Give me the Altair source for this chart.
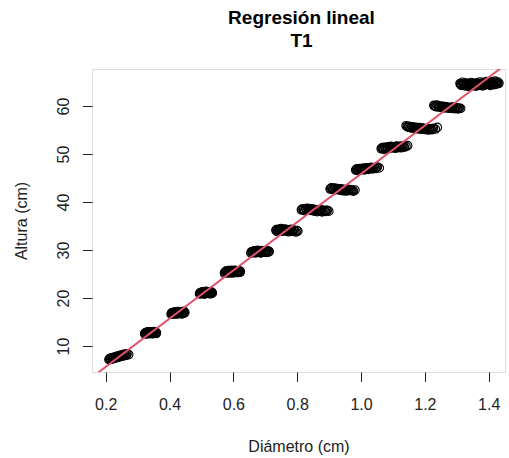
import altair as alt
import pandas as pd

# Diámetro (cm) and Altura (cm) per visible cluster of points
d1 = [0.210,0.213,0.216,0.218,0.221,0.223,0.225,0.228,0.230,0.233,0.236,0.240,0.243,0.247,0.250,0.254,0.258,0.262,0.267,0.272]
h1 = [7.15,7.40,7.25,7.55,7.35,7.60,7.45,7.70,7.50,7.80,7.65,7.90,7.75,8.00,7.85,8.10,8.30,8.05,8.35,8.20]
d1b = [0.212,0.215,0.219,0.222,0.226,0.229,0.232,0.235,0.238,0.242,0.245,0.249,0.252,0.256,0.260,0.265]
h1b = [7.30,7.20,7.45,7.30,7.55,7.65,7.55,7.85,7.70,7.75,8.05,7.90,8.15,7.95,8.20,8.10]
d2 = [0.322,0.325,0.328,0.330,0.333,0.335,0.338,0.340,0.343,0.346,0.349,0.352,0.355,0.359]
h2 = [12.50,12.75,12.60,12.90,12.55,12.80,12.65,12.95,12.70,12.85,12.60,13.00,12.75,12.80]
d2b = [0.323,0.326,0.329,0.332,0.334,0.337,0.339,0.342,0.345,0.347,0.350,0.353,0.356,0.358]
h2b = [12.70,12.55,12.85,12.65,12.95,12.60,12.80,12.70,12.55,12.90,12.75,12.65,12.85,12.60]
d3 = [0.405,0.408,0.411,0.414,0.417,0.420,0.423,0.426,0.429,0.432,0.435,0.438,0.441,0.444,0.448]
h3 = [16.60,16.90,16.70,17.05,16.80,16.65,17.00,17.20,16.85,17.05,16.75,17.15,16.95,17.25,17.00]
d3b = [0.406,0.409,0.412,0.416,0.419,0.422,0.425,0.428,0.431,0.434,0.437,0.440,0.443,0.446]
h3b = [16.85,16.65,16.90,16.75,17.10,16.85,16.70,16.95,17.15,16.80,16.95,16.70,17.00,16.85]
d4 = [0.494,0.497,0.500,0.503,0.506,0.509,0.511,0.514,0.517,0.520,0.523,0.526,0.529,0.531,0.534]
h4 = [20.85,21.15,20.95,21.30,21.05,20.80,21.20,21.40,21.00,21.25,21.10,20.90,21.35,21.15,21.00]
d4b = [0.495,0.498,0.501,0.504,0.507,0.510,0.513,0.516,0.519,0.522,0.525,0.528,0.530,0.533]
h4b = [21.05,20.90,21.15,20.95,21.25,21.05,20.95,21.20,21.10,20.95,21.30,21.05,20.90,21.15]
d5 = [0.572,0.575,0.579,0.582,0.585,0.589,0.592,0.595,0.598,0.601,0.605,0.608,0.611,0.615,0.618,0.622]
h5 = [25.15,25.45,25.60,25.25,25.70,25.35,25.55,25.80,25.20,25.50,25.75,25.40,25.60,25.30,25.55,25.45]
d5b = [0.573,0.577,0.580,0.584,0.587,0.590,0.594,0.597,0.600,0.603,0.606,0.610,0.613,0.616,0.620,0.621]
h5b = [25.35,25.60,25.40,25.50,25.20,25.65,25.45,25.35,25.65,25.40,25.55,25.30,25.50,25.65,25.35,25.60]
d6 = [0.655,0.659,0.662,0.666,0.669,0.673,0.676,0.680,0.683,0.687,0.690,0.694,0.698,0.702,0.707,0.712]
h6 = [29.35,29.70,29.50,29.85,29.40,29.65,29.95,29.55,29.80,29.45,29.90,29.60,29.75,29.50,29.85,29.65]
d6b = [0.656,0.660,0.664,0.667,0.671,0.674,0.678,0.681,0.685,0.688,0.692,0.696,0.700,0.704,0.709,0.711]
h6b = [29.60,29.45,29.75,29.60,29.85,29.50,29.70,29.65,29.40,29.70,29.55,29.80,29.65,29.70,29.55,29.75]
d7 = [0.733,0.737,0.741,0.745,0.749,0.753,0.757,0.761,0.765,0.769,0.773,0.777,0.781,0.785,0.790,0.796,0.802]
h7 = [34.10,33.85,34.30,34.00,34.45,33.90,34.20,34.35,33.95,34.15,33.80,34.05,34.30,33.90,34.10,33.75,33.95]
d7b = [0.735,0.739,0.743,0.747,0.751,0.755,0.759,0.763,0.767,0.771,0.775,0.779,0.783,0.788,0.793,0.799]
h7b = [34.25,34.05,34.15,34.25,34.10,34.30,34.05,34.15,34.25,33.95,34.20,34.10,34.00,34.15,33.95,34.05]
d8 = [0.813,0.818,0.823,0.828,0.833,0.838,0.843,0.848,0.853,0.858,0.863,0.868,0.873,0.878,0.884,0.889,0.894,0.899]
h8 = [38.35,38.60,38.20,38.50,38.70,38.45,38.25,38.55,38.10,38.40,38.00,38.30,38.15,37.95,38.25,38.05,38.20,38.10]
d8b = [0.815,0.820,0.826,0.831,0.836,0.840,0.845,0.850,0.856,0.861,0.866,0.871,0.876,0.881,0.887,0.892]
h8b = [38.50,38.40,38.65,38.35,38.55,38.40,38.60,38.30,38.45,38.20,38.35,38.25,38.40,38.10,38.20,38.30]
d9 = [0.903,0.908,0.912,0.917,0.921,0.926,0.930,0.935,0.939,0.944,0.948,0.953,0.957,0.962,0.966,0.971,0.976,0.981]
h9 = [42.70,42.95,42.75,42.90,42.55,42.80,42.65,42.45,42.60,42.35,42.50,42.30,42.65,42.40,42.55,42.45,42.25,42.50]
d9b = [0.905,0.910,0.915,0.919,0.924,0.928,0.933,0.937,0.942,0.946,0.951,0.955,0.960,0.964,0.969,0.974]
h9b = [42.85,42.65,42.70,42.80,42.65,42.70,42.60,42.75,42.50,42.65,42.55,42.45,42.55,42.60,42.40,42.45]
d10 = [0.983,0.987,0.991,0.995,0.999,1.003,1.007,1.011,1.015,1.019,1.023,1.027,1.031,1.036,1.041,1.046,1.051,1.057]
h10 = [46.65,46.90,46.55,47.00,46.75,46.85,47.10,46.70,46.95,47.15,46.80,47.05,47.25,46.90,47.20,47.00,47.30,47.10]
d10b = [0.985,0.989,0.993,0.997,1.001,1.005,1.009,1.013,1.017,1.021,1.025,1.029,1.034,1.038,1.044,1.049]
h10b = [46.80,46.70,46.85,46.90,46.95,46.75,46.95,47.05,46.85,47.00,46.95,47.15,47.05,47.10,47.10,47.20]
d11 = [1.063,1.067,1.072,1.076,1.081,1.085,1.090,1.094,1.099,1.103,1.108,1.112,1.117,1.121,1.126,1.131,1.136,1.141,1.146]
h11 = [51.10,51.35,50.95,51.25,51.45,51.15,51.40,51.60,51.30,51.50,51.20,51.65,51.40,51.55,51.30,51.70,51.45,51.60,51.75]
d11b = [1.065,1.070,1.074,1.079,1.083,1.088,1.092,1.097,1.101,1.106,1.110,1.115,1.119,1.124,1.129,1.134]
h11b = [51.25,51.20,51.40,51.30,51.35,51.50,51.25,51.45,51.40,51.35,51.55,51.45,51.35,51.60,51.50,51.55]
d12 = [1.141,1.146,1.151,1.156,1.161,1.167,1.172,1.177,1.183,1.188,1.193,1.199,1.204,1.210,1.215,1.221,1.227,1.233,1.239]
h12 = [55.90,55.65,55.80,55.45,55.70,55.35,55.55,55.25,55.50,55.15,55.40,55.10,55.30,55.00,55.25,55.05,55.35,55.20,55.55]
d12b = [1.144,1.149,1.154,1.159,1.164,1.170,1.175,1.180,1.186,1.191,1.196,1.202,1.207,1.213,1.218,1.224]
h12b = [55.75,55.60,55.55,55.65,55.45,55.50,55.40,55.45,55.30,55.35,55.30,55.25,55.20,55.15,55.20,55.25]
d13 = [1.228,1.233,1.238,1.243,1.248,1.253,1.258,1.263,1.268,1.273,1.278,1.283,1.288,1.293,1.298,1.303,1.308,1.312]
h13 = [60.15,59.95,60.20,59.80,60.00,59.70,59.90,59.60,59.80,59.55,59.75,59.50,59.70,59.45,59.65,59.40,59.60,59.50]
d13b = [1.230,1.236,1.241,1.246,1.251,1.256,1.261,1.266,1.271,1.276,1.281,1.286,1.291,1.296,1.301,1.306]
h13b = [60.05,59.85,60.00,59.90,59.80,59.95,59.70,59.85,59.70,59.65,59.60,59.80,59.55,59.65,59.55,59.50]
d14 = [1.310,1.314,1.318,1.322,1.326,1.330,1.333,1.336,1.339,1.342,1.345,1.348,1.351,1.354,1.357,1.360,1.363,1.366,1.369,1.372,
       1.375,1.378,1.381,1.384,1.387,1.390,1.393,1.396,1.399,1.402,1.405,1.408,1.411,1.414,1.417,1.420,1.423,1.426,1.429,1.432]
h14 = [64.70,64.30,64.95,64.50,64.20,64.80,64.45,64.10,64.65,64.35,64.90,64.55,64.25,64.75,64.40,64.15,64.85,64.60,64.30,65.00,
       64.50,64.70,64.20,64.95,64.60,64.40,65.10,64.75,64.50,64.85,64.30,65.05,64.65,64.90,64.45,65.20,64.80,64.60,65.00,64.75]
d14b = [1.312,1.316,1.320,1.324,1.328,1.331,1.335,1.338,1.341,1.344,1.347,1.350,1.353,1.356,1.359,1.362,1.365,1.368,1.371,1.374,
        1.377,1.380,1.383,1.386,1.389,1.392,1.395,1.398,1.401,1.404,1.407,1.410,1.413,1.416,1.419,1.422,1.425,1.428]
h14b = [64.50,64.60,64.40,64.75,64.45,64.60,64.30,64.55,64.45,64.70,64.35,64.65,64.50,64.55,64.70,64.45,64.35,64.70,64.55,64.65,
        64.35,64.50,64.80,64.45,64.70,64.55,64.85,64.60,64.70,64.55,64.60,64.80,64.50,64.70,64.95,64.65,64.85,64.70]

diametro = (d1 + d1b + d2 + d2b + d3 + d3b + d4 + d4b + d5 + d5b + d6 + d6b + d7 + d7b
            + d8 + d8b + d9 + d9b + d10 + d10b + d11 + d11b + d12 + d12b + d13 + d13b + d14 + d14b)
altura = (h1 + h1b + h2 + h2b + h3 + h3b + h4 + h4b + h5 + h5b + h6 + h6b + h7 + h7b
          + h8 + h8b + h9 + h9b + h10 + h10b + h11 + h11b + h12 + h12b + h13 + h13b + h14 + h14b)

x_ticks = [0.2, 0.4, 0.6, 0.8, 1.0, 1.2, 1.4]
y_ticks = [10, 20, 30, 40, 50, 60]
x_domain = [0.157, 1.451]
y_domain = [4.58, 67.72]

df = pd.DataFrame({"Diametro": diametro, "Altura": altura})

FONT = "Liberation Sans"

x_enc = alt.X(
    "Diametro:Q",
    scale=alt.Scale(domain=x_domain, nice=False, zero=False),
    axis=alt.Axis(
        values=x_ticks, format=".1f", title="Diámetro (cm)", grid=False, domain=False,
        tickSize=9.5, tickColor="#222222", tickWidth=1,
        labelFont=FONT, labelFontSize=16, labelColor="#222222",
        labelBaseline="alphabetic", labelPadding=28, labelFlush=False, labelOverlap=False,
        titleFont=FONT, titleFontSize=16, titleFontWeight="normal", titleColor="#222222",
        titleBaseline="alphabetic", titleY=79, titleX=206.5, titleAlign="center",
    ),
)
y_enc = alt.Y(
    "Altura:Q",
    scale=alt.Scale(domain=y_domain, nice=False, zero=False),
    axis=alt.Axis(
        values=y_ticks, title="Altura (cm)", grid=False, domain=False,
        tickSize=9.5, tickColor="#222222", tickWidth=1,
        labelFont=FONT, labelFontSize=16, labelColor="#222222",
        labelAngle=270, labelAlign="center", labelBaseline="alphabetic",
        labelPadding=14, labelFlush=False, labelOverlap=False,
        titleFont=FONT, titleFontSize=16, titleFontWeight="normal", titleColor="#222222",
        titleAngle=270, titleBaseline="alphabetic", titleX=-65.3, titleY=151.5, titleAlign="center",
    ),
)

points = alt.Chart(df).mark_point(
    shape="circle", filled=False, color="black", size=72, strokeWidth=1.1, opacity=1
).encode(x=x_enc, y=y_enc)

line = alt.Chart(df).transform_regression(
    "Diametro", "Altura", extent=[0.1, 1.5]
).mark_line(color="#DF536B", strokeWidth=2, clip=True).encode(
    x=alt.X("Diametro:Q"), y=alt.Y("Altura:Q")
)

chart = alt.layer(points, line).properties(
    width=413,
    height=303,
    padding={"left": 92, "top": 69, "right": 4, "bottom": 86},
    autosize=alt.AutoSizeParams(type="none"),
    title=alt.TitleParams(
        ["Regresión lineal", "T1"], font=FONT, fontSize=19, fontWeight="bold",
        color="black", anchor="middle", lineHeight=23, dx=3, offset=3,
        baseline="alphabetic",
    ),
).configure_view(stroke="#222222", strokeWidth=1).configure(background="white")

chart.save("out.html", embed_options={"renderer": "svg", "actions": False})
